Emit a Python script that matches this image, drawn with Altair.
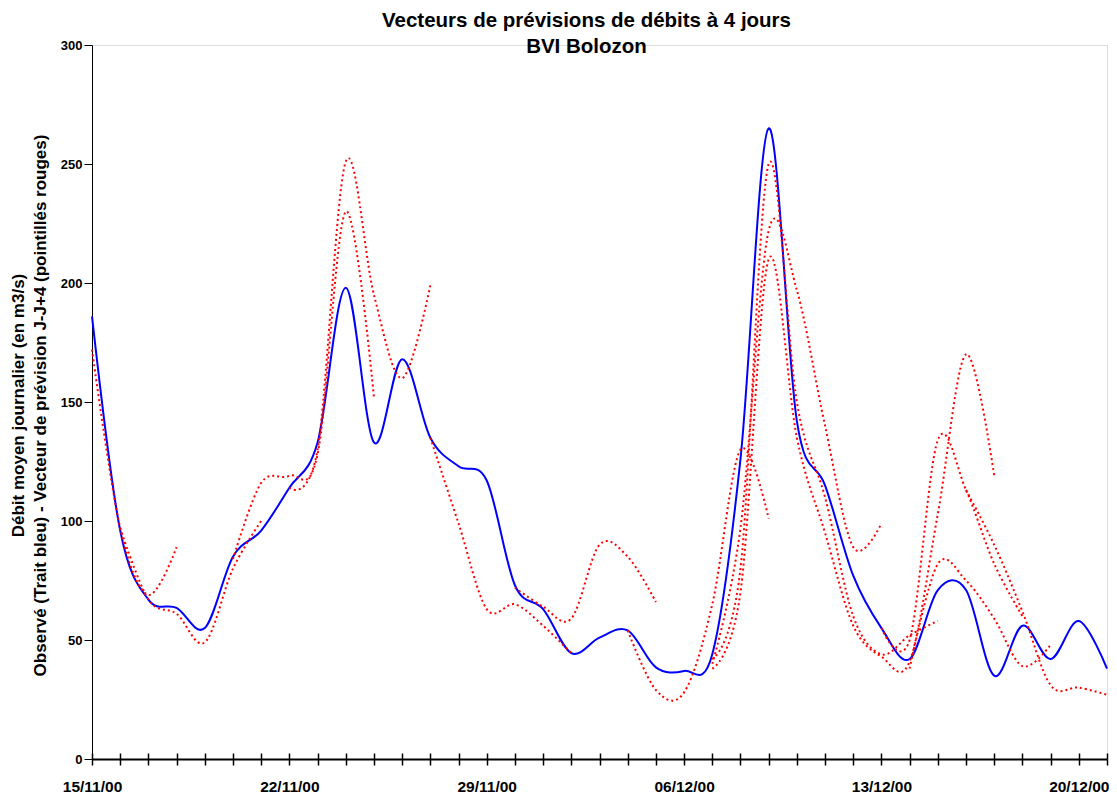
import json
import altair as alt
import pandas as pd

FONT = "Liberation Sans"

TITLE_LINES = ["Vecteurs de prévisions de débits à 4 jours", "BVI Bolozon"]
Y_TITLE_LINES = [
    "Débit moyen journalier (en m3/s)",
    "Observé (Trait bleu) - Vecteur de prévision J-J+4 (pointillés rouges)",
]

START_DATE = "2000-11-15"
END_DATE = "2000-12-21"
TICK_LABELS = ["15/11/00", "22/11/00", "29/11/00", "06/12/00", "13/12/00", "20/12/00"]
Y_TICKS = [0, 50, 100, 150, 200, 250, 300]

# observed daily discharge (m3/s), one value per day from 15/11/00
OBSERVED = [186, 96, 67, 63.5, 55, 85, 96, 114, 133, 198, 133, 168, 135, 123, 117,
            73, 63, 44.5, 51, 54, 38.5, 37, 44, 126, 265, 142, 115, 77, 55, 42,
            71, 71, 35, 56, 42, 58, 38]

# forecast vectors: first date of each vector and its daily values
FORECAST_STARTS = ["2000-11-15", "2000-11-16", "2000-11-20", "2000-11-22",
                   "2000-11-27", "2000-11-30", "2000-12-04", "2000-12-07",
                   "2000-12-07", "2000-12-07", "2000-12-13", "2000-12-14",
                   "2000-12-16"]
FORECAST_VALUES = [
    [172, 97, 69, 89],
    [97, 67, 61, 49, 80, 100],
    [84, 116, 119, 128, 230, 152],
    [114, 130, 251, 195, 160, 199],
    [135, 99, 63, 65, 56, 44.5],
    [72, 64, 59, 90, 85, 66],
    [54, 29, 28, 65, 130, 101],
    [40, 97, 222, 197, 140, 89, 99],
    [42, 80, 250, 150, 110, 60, 44, 52, 58],
    [38, 70, 210, 135, 95, 56, 43, 41, 103, 170, 119],
    [55, 50, 134, 113, 82, 60],
    [38, 82, 75, 59, 39, 48],
    [113, 90, 62, 31, 30, 27],
]

start = pd.Timestamp(START_DATE)
n_days = (pd.Timestamp(END_DATE) - start).days

obs_df = pd.DataFrame({"day": list(range(len(OBSERVED))), "q": OBSERVED})
rows = []
for k, (s, vals) in enumerate(zip(FORECAST_STARTS, FORECAST_VALUES)):
    d0 = (pd.Timestamp(s) - start).days
    for i, v in enumerate(vals):
        rows.append({"vec": k, "day": d0 + i, "q": v})
fc_df = pd.DataFrame(rows)

label_expr = ("datum.value % 7 == 0 ? " + json.dumps(TICK_LABELS, ensure_ascii=False)
              + "[datum.value / 7] : ''")

x_scale = alt.Scale(domain=[0, n_days], nice=False, zero=False)
y_scale = alt.Scale(domain=[0, 300], nice=False, zero=True)

main_x_axis = alt.Axis(
    orient="bottom", values=list(range(n_days + 1)), labelExpr=label_expr,
    title=None, grid=False, domainColor="black", domainWidth=2,
    tickColor="black", tickWidth=1.5, tickSize=6,
    labelFont=FONT, labelFontSize=15.5, labelFontWeight="bold", labelColor="black",
    labelPadding=14, labelOverlap=False, labelFlush=False,
)
inner_x_axis = alt.Axis(
    orient="bottom", values=list(range(n_days + 1)), offset=-6, domain=False,
    labels=False, tickColor="black", tickWidth=1.5, tickSize=6, grid=False,
    title=None,
)
y_axis = alt.Axis(
    values=Y_TICKS, grid=False, domainColor="black", domainWidth=1,
    tickColor="black", tickWidth=1, tickSize=8,
    labelFont=FONT, labelFontSize=13, labelFontWeight="bold", labelColor="black",
    labelPadding=2,
    title=Y_TITLE_LINES, titleFont=FONT, titleFontSize=17, titleFontWeight="bold",
    titleColor="black", titleAngle=270, titleAlign="center",
    titleBaseline="alphabetic", titleX=-69, titleY=360, titleLineHeight=22,
)

blue = alt.Chart(obs_df).mark_line(
    color="#0000FF", strokeWidth=2, interpolate="cardinal", tension=0
).encode(
    x=alt.X("day:Q", scale=x_scale, axis=main_x_axis),
    y=alt.Y("q:Q", scale=y_scale, axis=y_axis),
)

red = alt.Chart(fc_df).mark_line(
    color="#FF0000", strokeWidth=2, strokeDash=[2, 3], interpolate="cardinal",
    tension=0
).encode(
    x=alt.X("day:Q", scale=x_scale, axis=inner_x_axis),
    y=alt.Y("q:Q", scale=y_scale, axis=y_axis),
    detail="vec:N",
)

chart = alt.layer(blue, red).resolve_axis(x="independent").properties(
    width=1015,
    height=714,
    autosize=alt.AutoSizeParams(type="none"),
    padding={"left": 84, "top": 37, "right": 2, "bottom": 40},
    title=alt.TitleParams(
        text=TITLE_LINES, font=FONT, fontSize=20.5, fontWeight="bold",
        anchor="middle", frame="group", offset=-18, lineHeight=26, dx=-13,
        color="black",
    ),
).configure_view(stroke=None).configure(background="white")

chart.save("out.html", embed_options={"renderer": "svg", "actions": False})
